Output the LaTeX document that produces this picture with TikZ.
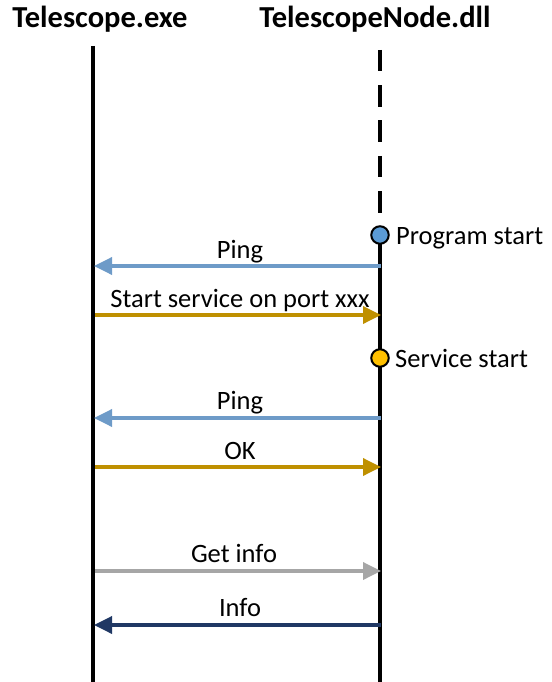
\documentclass[tikz,border=0pt]{standalone}
\usepackage{fontspec}
\setmainfont{Carlito}
\usetikzlibrary{arrows.meta}
\definecolor{pingblue}{RGB}{110,155,200}
\definecolor{gold}{RGB}{191,144,0}
\definecolor{greyarr}{RGB}{166,166,166}
\definecolor{navy}{RGB}{32,56,100}
\definecolor{startblue}{RGB}{91,155,213}
\definecolor{startgold}{RGB}{255,192,0}
\tikzset{
  header/.style={font=\fontsize{30.5}{34}\selectfont\bfseries, anchor=base},
  lbl/.style={font=\fontsize{26.5}{30}\selectfont, anchor=base},
  evlbl/.style={font=\fontsize{26.5}{30}\selectfont, anchor=base west, inner sep=0pt},
  life/.style={line width=4.5pt},
  msg/.style={line width=3.5pt, -{Triangle[length=18pt,width=17pt]}, shorten >=0pt},
  evt/.style={circle, draw=black, line width=2pt, minimum size=17.5pt, inner sep=0pt}
}
\begin{document}
\begin{tikzpicture}[x=1pt,y=-1pt]
\useasboundingbox (0,0) rectangle (551,682);
% headers
\node[header] (hA) at (100,28) {Telescope.exe};
\node[header] (hB) at (375,28) {TelescopeNode.dll};
% lifelines
\coordinate (Atop) at (93,46);
\coordinate (Abot) at (93,682);
\coordinate (Btop) at (380,50);
\coordinate (Bdash) at (380,213);
\coordinate (Bbot) at (380,682);
\draw[life] (Atop) -- (Abot);
\draw[life, dash pattern=on 21.5pt off 13.75pt] (Btop) -- (Bdash);
\draw[life] (380,234) -- (Bbot);
% events
\node[evt, fill=startblue] (e1) at (380,235) {};
\node[evlbl] (t1) at (396,244) {Program start};
\node[evt, fill=startgold] (e2) at (380,358) {};
\node[evlbl] (t2) at (395,367) {Service start};
% message endpoints
\coordinate (b1) at (381,266); \coordinate (a1) at (94,266);
\coordinate (a2) at (95,315); \coordinate (b2) at (381,315);
\coordinate (b3) at (381,418); \coordinate (a3) at (94,418);
\coordinate (a4) at (95,467); \coordinate (b4) at (381,467);
\coordinate (a5) at (95,571); \coordinate (b5) at (381,571);
\coordinate (b6) at (381,625); \coordinate (a6) at (94,625);
\draw[msg, pingblue] (b1) -- (a1);
\draw[msg, gold] (a2) -- (b2);
\draw[msg, pingblue] (b3) -- (a3);
\draw[msg, gold] (a4) -- (b4);
\draw[msg, greyarr] (a5) -- (b5);
\draw[msg, navy] (b6) -- (a6);
% labels
\node[lbl] (l1) at (240,258) {Ping};
\node[lbl] (l2) at (240,307) {Start service on port xxx};
\node[lbl] (l3) at (240,409) {Ping};
\node[lbl] (l4) at (240,459) {OK};
\node[lbl] (l5) at (234,562) {Get info};
\node[lbl] (l6) at (240,616) {Info};
\end{tikzpicture}
\end{document}
